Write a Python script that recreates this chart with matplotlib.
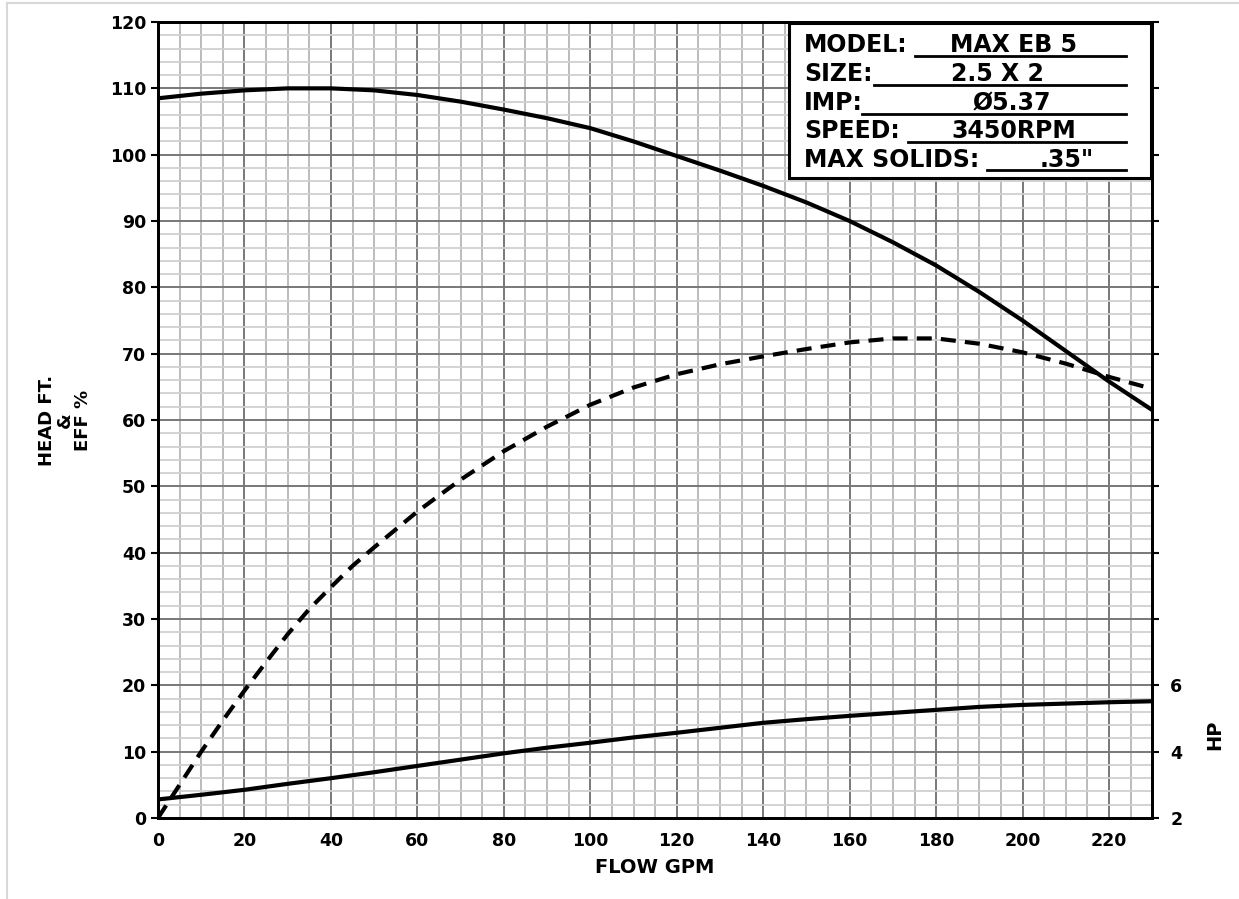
#!/usr/bin/env python3
"""
Pump performance curve: MAX EB 5, 2.5 x 2, 3450 RPM
Head, efficiency (left axis) and HP (right axis) vs flow.
"""

import matplotlib.pyplot as plt
from matplotlib.lines import Line2D
from matplotlib.ticker import MultipleLocator, FixedLocator

plt.rcParams.update({
    'font.family': ['DejaVu Sans'],
    'font.weight': 'bold',
    'font.size': 12,
})

# Flow (GPM)
flow = [0, 10, 20, 30, 40, 50, 60, 70, 80, 90, 100, 110, 120, 130, 140,
        150, 160, 170, 180, 190, 200, 210, 220, 230]

# Head (ft)
head = [108.5, 109.2, 109.7, 110.0, 110.0, 109.7, 109.0, 108.0, 106.8, 105.5,
        104.0, 102.0, 99.8, 97.6, 95.3, 92.8, 90.0, 86.8, 83.3, 79.3,
        75.0, 70.4, 65.8, 61.5]

# Efficiency (%)
eff_flow = [0, 5, 10, 15, 20, 25, 30, 35, 40, 45, 50, 55, 60, 70, 80, 90, 100,
            110, 120, 130, 140, 150, 160, 170, 180, 190, 200, 210, 220, 230]
eff = [0, 5.0, 10.0, 14.7, 19.2, 23.5, 27.7, 31.5, 34.8, 38.0, 40.8, 43.5,
       46.2, 51.0, 55.3, 59.0, 62.3, 64.9, 66.9, 68.4, 69.6, 70.7, 71.7, 72.3,
       72.3, 71.5, 70.2, 68.5, 66.5, 64.7]

# Power (HP)
hp = [2.56, 2.70, 2.85, 3.03, 3.20, 3.38, 3.57, 3.76, 3.95, 4.12, 4.27, 4.43,
      4.57, 4.72, 4.87, 4.98, 5.08, 5.17, 5.26, 5.35, 5.41, 5.45, 5.49, 5.52]

info_labels = ['MODEL:', 'SIZE:', 'IMP:', 'SPEED:', 'MAX SOLIDS:']
info_values = ['MAX EB 5', '2.5 X 2', 'Ø5.37', '3450RPM', '.35"']

fig = plt.figure(figsize=(12.39, 8.99), dpi=100)
ax = fig.add_axes([0.1275, 0.0901, 0.8025, 0.8854])

ax.set_xlim(0, 230)
ax.set_ylim(0, 120)

ax.xaxis.set_major_locator(MultipleLocator(20))
ax.xaxis.set_minor_locator(MultipleLocator(5))
ax.yaxis.set_major_locator(MultipleLocator(10))
ax.yaxis.set_minor_locator(MultipleLocator(2))

ax.grid(which='minor', axis='x', color='#b0b0b0', linewidth=1.2)
ax.grid(which='minor', axis='y', color='#d0d0d0', linewidth=1.3)
ax.grid(which='major', color='#787878', linewidth=1.4)
ax.set_axisbelow(True)

ax.tick_params(axis='x', which='both', length=0, pad=10, labelsize=12.5)
ax.tick_params(axis='y', which='major', length=5, width=1.5, labelsize=12.5)
ax.tick_params(axis='y', which='minor', length=0)
for sp in ax.spines.values():
    sp.set_linewidth(2)

ax.plot(flow, head, color='black', linewidth=3)
ax.plot(eff_flow, eff, color='black', linewidth=3, dashes=(3.6, 2.2))

ax.set_xlabel('FLOW GPM', fontsize=14, fontweight='bold', labelpad=6)
ax.set_ylabel('HEAD FT.\n&\nEFF %', fontsize=13, fontweight='bold',
              linespacing=1.0)
ax.yaxis.set_label_coords(-0.066, 0.5)

# HP on the right axis (2 HP at 0, 2 HP per 10 units of head)
ax2 = ax.twinx()
ax2.set_ylim(2, 26)
ax2.plot(flow, hp, color='black', linewidth=3)
ax2.yaxis.set_major_locator(FixedLocator(list(range(2, 27, 2))))
ax2.set_yticklabels(['2', '4', '6'] + [''] * 10)
ax2.tick_params(axis='y', length=5, width=1.5, labelsize=12.5, pad=8)
for sp in ax2.spines.values():
    sp.set_linewidth(2)
ax2.set_ylabel('HP', fontsize=14, fontweight='bold')
ax2.yaxis.set_label_coords(1.053, 0.104)

# Info box
box = plt.Rectangle((789 / 1239, 1 - 178 / 899), (1151 - 789) / 1239,
                    (178 - 23) / 899, transform=fig.transFigure,
                    facecolor='white', edgecolor='black', linewidth=2.2,
                    zorder=5)
fig.patches.append(box)

base_y = [52, 81, 110, 138, 167]
line_y = [56, 85, 114, 142, 170]
line_x0 = [915, 874, 862, 908, 987]
value_x = [1014, 997, 1012, 1014, 1067]
for lab, val, by, ly, lx0, vx in zip(info_labels, info_values, base_y,
                                     line_y, line_x0, value_x):
    fig.text(804 / 1239, 1 - by / 899, lab, fontsize=17, fontweight='bold',
             va='baseline', ha='left', zorder=6)
    fig.text(vx / 1239, 1 - by / 899, val, fontsize=17, fontweight='bold',
             va='baseline', ha='center', zorder=6)
    fig.lines.append(Line2D([lx0 / 1239, 1126 / 1239],
                            [1 - ly / 899, 1 - ly / 899],
                            transform=fig.transFigure, color='black',
                            linewidth=2, zorder=6))

# light frame lines at top and left of the picture
fig.lines.append(Line2D([7 / 1239, 1], [1 - 3 / 899, 1 - 3 / 899],
                        transform=fig.transFigure, color='#d8d8d8', linewidth=1.5))
fig.lines.append(Line2D([7 / 1239, 7 / 1239], [0, 1 - 3 / 899],
                        transform=fig.transFigure, color='#d8d8d8', linewidth=1.5))

plt.savefig('out.png', dpi=100)
plt.close()
